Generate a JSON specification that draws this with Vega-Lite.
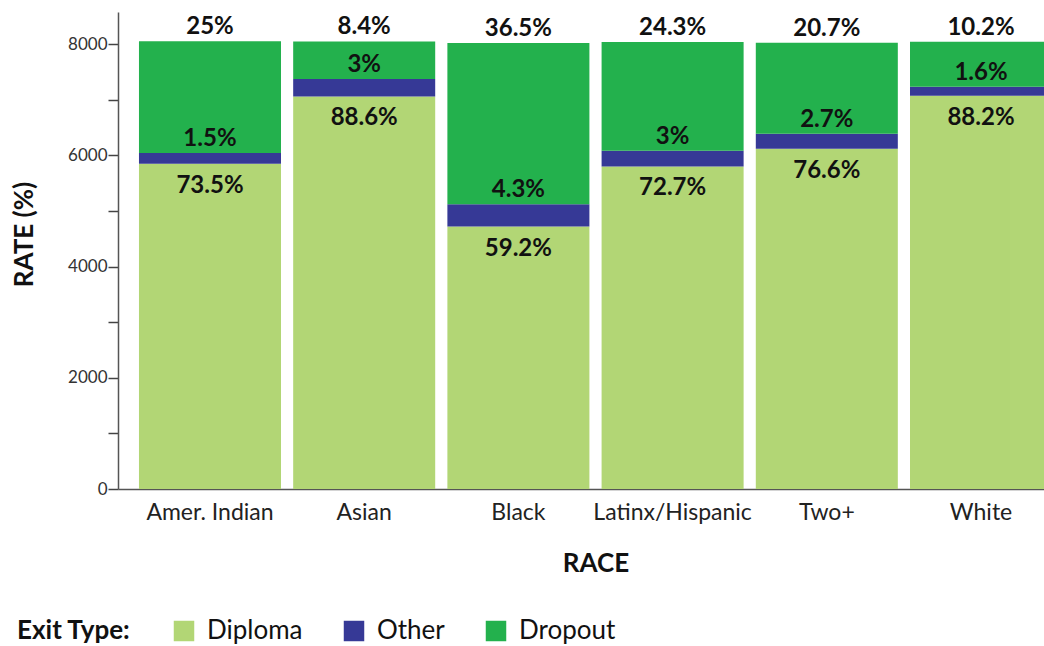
{
  "$schema": "https://vega.github.io/schema/vega-lite/v6.json",
  "width": 926,
  "height": 477,
  "autosize": {"type": "none"},
  "padding": {"left": 118, "top": 12, "right": 0, "bottom": 157},
  "background": "white",
  "config": {
    "font": "Lato",
    "view": {"stroke": null}
  },
  "data": {
    "values": [
      {"race": "Amer. Indian", "type": "Diploma", "ord": 1, "value": 5850, "label": "73.5%"},
      {"race": "Amer. Indian", "type": "Other", "ord": 2, "value": 193, "label": "1.5%"},
      {"race": "Amer. Indian", "type": "Dropout", "ord": 3, "value": 2009, "label": "25%"},
      {"race": "Asian", "type": "Diploma", "ord": 1, "value": 7061, "label": "88.6%"},
      {"race": "Asian", "type": "Other", "ord": 2, "value": 313, "label": "3%"},
      {"race": "Asian", "type": "Dropout", "ord": 3, "value": 677, "label": "8.4%"},
      {"race": "Black", "type": "Diploma", "ord": 1, "value": 4721, "label": "59.2%"},
      {"race": "Black", "type": "Other", "ord": 2, "value": 403, "label": "4.3%"},
      {"race": "Black", "type": "Dropout", "ord": 3, "value": 2898, "label": "36.5%"},
      {"race": "Latinx/Hispanic", "type": "Diploma", "ord": 1, "value": 5801, "label": "72.7%"},
      {"race": "Latinx/Hispanic", "type": "Other", "ord": 2, "value": 282, "label": "3%"},
      {"race": "Latinx/Hispanic", "type": "Dropout", "ord": 3, "value": 1957, "label": "24.3%"},
      {"race": "Two+", "type": "Diploma", "ord": 1, "value": 6120, "label": "76.6%"},
      {"race": "Two+", "type": "Other", "ord": 2, "value": 270, "label": "2.7%"},
      {"race": "Two+", "type": "Dropout", "ord": 3, "value": 1638, "label": "20.7%"},
      {"race": "White", "type": "Diploma", "ord": 1, "value": 7074, "label": "88.2%"},
      {"race": "White", "type": "Other", "ord": 2, "value": 162, "label": "1.6%"},
      {"race": "White", "type": "Dropout", "ord": 3, "value": 810, "label": "10.2%"}
    ]
  },
  "transform": [
    {"stack": "value", "groupby": ["race"], "sort": [{"field": "ord", "order": "ascending"}], "as": ["y0", "y1"]}
  ],
  "encoding": {
    "x": {
      "field": "race",
      "type": "nominal",
      "sort": null,
      "scale": {"range": [0, 955], "paddingInner": 0.079, "paddingOuter": 0.136},
      "axis": {
        "title": "RACE",
        "titleFontSize": 26,
        "titleFontWeight": "bold",
        "titleColor": "#111",
        "titlePadding": 26,
        "labelAngle": 0,
        "labelFontSize": 23,
        "labelColor": "#222",
        "labelPadding": 12,
        "ticks": false,
        "domainColor": "#555",
        "domainWidth": 1.5
      }
    }
  },
  "layer": [
    {
      "mark": {"type": "bar"},
      "encoding": {
        "y": {
          "field": "y0",
          "type": "quantitative",
          "scale": {"domain": [0, 8580], "nice": false, "zero": true},
          "axis": {
            "title": "RATE (%)",
            "titleFontSize": 26,
            "titleFontWeight": "bold",
            "titleColor": "#111",
            "titleY": 222,
            "titleX": -81,
            "values": [0, 1000, 2000, 3000, 4000, 5000, 6000, 7000, 8000],
            "labelExpr": "datum.value % 2000 == 0 ? '' + datum.value : ''",
            "labelFontSize": 17,
            "labelColor": "#333",
            "labelPadding": 1,
            "tickSize": 10,
            "tickColor": "#444",
            "tickWidth": 1.5,
            "domainColor": "#555",
            "domainWidth": 1.5,
            "grid": false
          }
        },
        "y2": {"field": "y1"},
        "color": {
          "field": "type",
          "type": "nominal",
          "sort": ["Diploma", "Other", "Dropout"],
          "scale": {"domain": ["Diploma", "Other", "Dropout"], "range": ["#b2d675", "#363996", "#23b14d"]},
          "legend": {
            "title": "Exit Type:",
            "orient": "none",
            "legendX": -101,
            "legendY": 606,
            "direction": "horizontal",
            "titleOrient": "left",
            "titleFontSize": 26,
            "titleFontWeight": "bold",
            "titleColor": "#111",
            "titlePadding": 40,
            "titleBaseline": "middle",
            "symbolType": "square",
            "symbolSize": 420,
            "symbolStrokeWidth": 0,
            "labelFontSize": 26,
            "labelColor": "#111",
            "labelOffset": 10,
            "columnPadding": 38
          }
        }
      }
    },
    {
      "transform": [{"filter": "datum.type == 'Diploma'"}],
      "mark": {"type": "text", "fontSize": 24, "fontWeight": "bold", "color": "#111", "dy": 22, "baseline": "middle"},
      "encoding": {
        "y": {"field": "y1", "type": "quantitative"},
        "text": {"field": "label"}
      }
    },
    {
      "transform": [{"filter": "datum.type != 'Diploma'"}],
      "mark": {"type": "text", "fontSize": 24, "fontWeight": "bold", "color": "#111", "dy": -14, "baseline": "middle"},
      "encoding": {
        "y": {"field": "y1", "type": "quantitative"},
        "text": {"field": "label"}
      }
    }
  ]
}
